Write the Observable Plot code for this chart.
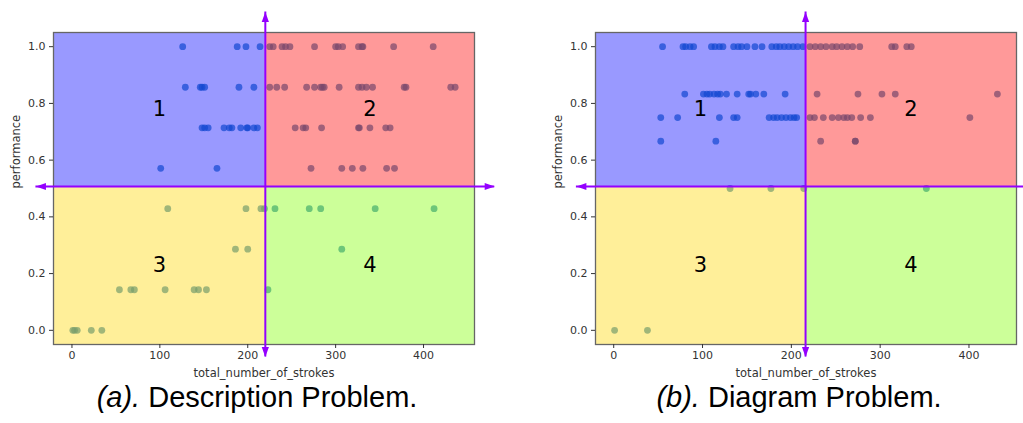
<!DOCTYPE html>
<html><head><meta charset="utf-8">
<script src="https://cdn.jsdelivr.net/npm/d3@7"></script>
<script src="https://cdn.jsdelivr.net/npm/@observablehq/plot@0.6"></script>
<style>
body{margin:0;background:#fff;width:1023px;height:423px;overflow:hidden;position:relative}
.panel{position:absolute;top:0}
.cap{position:absolute;font-family:"Liberation Sans",Arial,sans-serif;font-size:29px;line-height:32px;color:#000;white-space:nowrap;transform:translateX(-50%)}
</style></head><body>
<div id="a" class="panel" style="left:0"></div>
<div id="b" class="panel" style="left:542px"></div>
<div class="cap" style="left:257px;top:381px"><i>(a).</i> Description Problem.</div>
<div class="cap" style="left:799px;top:381px"><i>(b).</i> Diagram Problem.</div>
<script>
// ---------- data ----------
// (a) Description Problem: performance levels and stroke counts per level
const levelsA = [1.0, 0.857, 0.714, 0.571, 0.429, 0.286, 0.143, 0.0];
const strokesA = [
  [126,188,198,214,225,229,239,243,248,276,300,303,308,326,330,331,366,411],
  [129,146,148,151,190,207,225,233,242,267,276,283,285,287,304,326,330,335,342,378,380,431,436],
  [148,151,155,173,179,182,192,199,200,207,211,254,263,266,284,326,327,339,357,362],
  [101,165,272,307,319,331,358,367],
  [109,198,215,219,231,270,283,345,412],
  [186,200,307],
  [54,67,71,106,139,144,153,223],
  [1,3,6,22,34]
];
// (b) Diagram Problem
const levelsB = [1.0, 0.833, 0.75, 0.667, 0.5, 0.0];
const strokesB = [
  [55,78,81,86,90,110,114,119,123,135,140,144,150,159,167,178,183,187,192,197,202,207,213,221,227,233,239,246,251,257,263,269,277,313,317,330,335],
  [80,101,105,108,113,117,120,127,139,152,154,160,169,193,229,275,302,317,432],
  [53,72,119,135,139,175,180,184,189,194,199,203,206,221,226,236,246,253,259,263,268,278,289,401],
  [53,115,233,272,272],
  [131,177,214,352],
  [1,38]
];
// quadrant split values
const splitStrokesA = 220;
const splitStrokesB = 216;
const splitPerformance = 0.507;
const quadrantNames = ["1", "2", "3", "4"];
const xTicks = [0, 100, 200, 300, 400];
const yTicks = [0.0, 0.2, 0.4, 0.6, 0.8, 1.0];
const xLabel = "total_number_of_strokes";
const yLabel = "performance";

// ---------- drawing ----------
const purple = "#9400ff";
const up = {draw(c){c.moveTo(0,0);c.lineTo(-3.6,10);c.lineTo(3.6,10);c.closePath();}};
const down = {draw(c){c.moveTo(0,0);c.lineTo(-3.6,-10);c.lineTo(3.6,-10);c.closePath();}};
const right = {draw(c){c.moveTo(0,0);c.lineTo(-10,-3.6);c.lineTo(-10,3.6);c.closePath();}};
const left = {draw(c){c.moveTo(0,0);c.lineTo(10,-3.6);c.lineTo(10,3.6);c.closePath();}};

function panel(levels, strokes, split, xDomain, hArrow, width, marginRight) {
  const yDomain = [-0.05, 1.05];
  const vArrow = [-0.094, 1.122];
  const pts = [];
  levels.forEach((p, i) => strokes[i].forEach(s => pts.push({strokes: s, performance: p})));
  const quads = [
    {x1: xDomain[0], x2: split, y1: splitPerformance, y2: yDomain[1], color: "#0000ff", name: quadrantNames[0]},
    {x1: split, x2: xDomain[1], y1: splitPerformance, y2: yDomain[1], color: "#ff0000", name: quadrantNames[1]},
    {x1: xDomain[0], x2: split, y1: yDomain[0], y2: splitPerformance, color: "#ffd700", name: quadrantNames[2]},
    {x1: split, x2: xDomain[1], y1: yDomain[0], y2: splitPerformance, color: "#7fff00", name: quadrantNames[3]}
  ];
  const hLine = [{x1: hArrow[0], x2: hArrow[1], y: splitPerformance}];
  const vLine = [{x: split, y1: vArrow[0], y2: vArrow[1]}];
  return Plot.plot({
    width, height: 386,
    marginLeft: 53, marginRight, marginTop: 32, marginBottom: 42,
    style: {fontFamily: "DejaVu Sans, sans-serif", fontSize: "11px", color: "#333", background: "transparent", overflow: "visible"},
    x: {domain: xDomain, ticks: xTicks},
    y: {domain: yDomain, ticks: yTicks},
    marks: [
      Plot.dot(pts, {x: "strokes", y: "performance", r: 3.4, fill: "#1f77b4", fillOpacity: 0.7}),
      ...quads.map(q => Plot.rect([q], {x1: "x1", x2: "x2", y1: "y1", y2: "y2", fill: q.color, fillOpacity: 0.4})),
      Plot.frame({stroke: "#666", strokeWidth: 1.3}),
      Plot.axisX({ticks: xTicks, tickSize: 4, tickPadding: 3, label: null, fontSize: 11}),
      Plot.axisY({ticks: yTicks, tickSize: 4, tickPadding: 4, tickFormat: d3.format(".1f"), label: null, fontSize: 11}),
      Plot.text([xLabel], {frameAnchor: "bottom", dy: 32, fontSize: 11.5, fill: "#333"}),
      Plot.text([yLabel], {frameAnchor: "left", dx: -37, rotate: -90, fontSize: 11.5, fill: "#333"}),
      Plot.ruleY(hLine, {y: "y", x1: "x1", x2: "x2", stroke: purple, strokeWidth: 2}),
      Plot.ruleX(vLine, {x: "x", y1: "y1", y2: "y2", stroke: purple, strokeWidth: 2}),
      Plot.dot(hLine, {x: "x2", y: "y", symbol: right, fill: purple, stroke: "none"}),
      Plot.dot(hLine, {x: "x1", y: "y", symbol: left, fill: purple, stroke: "none"}),
      Plot.dot(vLine, {x: "x", y: "y2", symbol: up, fill: purple, stroke: "none"}),
      Plot.dot(vLine, {x: "x", y: "y1", symbol: down, fill: purple, stroke: "none"}),
      Plot.text(quads, {x: d => (d.x1 + d.x2) / 2, y: d => (d.y1 + d.y2) / 2, text: "name", fontSize: 21, fill: "#000"})
    ]
  });
}

document.getElementById("a").append(panel(levelsA, strokesA, splitStrokesA, [-21, 458], [-41, 481], 511, 37));
document.getElementById("b").append(panel(levelsB, strokesB, splitStrokesB, [-20.5, 453.5], [-42, 476], 481, 7));
</script>
</body></html>
